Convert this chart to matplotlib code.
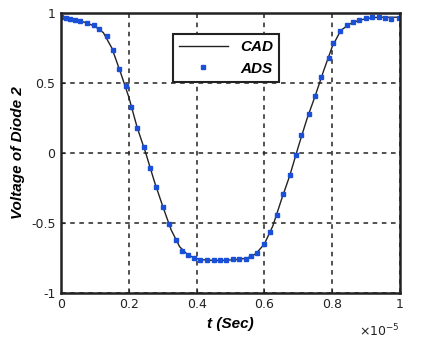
import numpy as np
import matplotlib
matplotlib.use('Agg')
import matplotlib.pyplot as plt

# CAD model of the diode 2 voltage (time in units of 1e-5 s)
t_cad = np.linspace(0, 1, 41)
v_cad = [0.97, 0.962, 0.948, 0.93, 0.905, 0.86, 0.75, 0.58, 0.40, 0.18,
         0.0, -0.2, -0.38, -0.55, -0.67, -0.73, -0.755, -0.765, -0.768, -0.768,
         -0.764, -0.76, -0.75, -0.72, -0.65, -0.52, -0.335, -0.16, 0.045, 0.24,
         0.41, 0.59, 0.76, 0.875, 0.92, 0.945, 0.96, 0.968, 0.97, 0.97, 0.97]

# ADS transient simulation samples
t_ads = [0.0, 0.014, 0.027, 0.041, 0.056, 0.077, 0.097, 0.112, 0.135, 0.153,
         0.171, 0.191, 0.206, 0.225, 0.245, 0.263, 0.28, 0.301, 0.318, 0.338,
         0.356, 0.374, 0.393, 0.41, 0.43, 0.451, 0.47, 0.488, 0.506, 0.526,
         0.545, 0.56, 0.579, 0.6, 0.617, 0.636, 0.655, 0.676, 0.694, 0.709,
         0.73, 0.75, 0.767, 0.79, 0.803, 0.823, 0.843, 0.862, 0.879, 0.899,
         0.917, 0.938, 0.956, 0.973, 0.997]
v_ads = [0.97, 0.962, 0.957, 0.95, 0.943, 0.93, 0.914, 0.886, 0.836, 0.736,
         0.6, 0.479, 0.33, 0.18, 0.04, -0.105, -0.243, -0.383, -0.51, -0.62,
         -0.702, -0.731, -0.75, -0.762, -0.764, -0.766, -0.766, -0.766, -0.759, -0.759,
         -0.755, -0.738, -0.712, -0.652, -0.563, -0.445, -0.293, -0.157, -0.014, 0.126,
         0.276, 0.41, 0.545, 0.676, 0.788, 0.874, 0.912, 0.936, 0.95, 0.966,
         0.969, 0.971, 0.964, 0.957, 0.962]

xticks = [0, 0.2, 0.4, 0.6, 0.8, 1]
xticklabels = ['0', '0.2', '0.4', '0.6', '0.8', '1']
yticks = [-1, -0.5, 0, 0.5, 1]
yticklabels = ['-1', '-0.5', '0', '0.5', '1']

fig = plt.figure(figsize=(4.45, 3.43), dpi=100)
ax = fig.add_axes([0.137, 0.146, 0.762, 0.816])

ax.plot(t_cad, v_cad, color='#222222', lw=1.0, label='CAD')
ax.plot(t_ads, v_ads, 's', color='#1a50d8', ms=3, mec='#1a50d8', label='ADS')

ax.set_xlim(0, 1)
ax.set_ylim(-1, 1)
ax.set_xticks(xticks)
ax.set_xticklabels(xticklabels)
ax.set_yticks(yticks)
ax.set_yticklabels(yticklabels)
ax.tick_params(direction='in', length=3, labelsize=9, colors='#222222', pad=4)

ax.grid(True, color='#222222', linestyle=(0, (3, 3)), lw=1.1)
for s in ax.spines.values():
    s.set_linewidth(1.8)
    s.set_color('#222222')

lab = dict(fontsize=11, fontweight='bold', style='italic', family='Liberation Sans')
ax.set_xlabel('t (Sec)', labelpad=4, **lab)
ax.set_ylabel('Voltage of Diode 2', labelpad=4, **lab)
ax.text(1.0, -0.135, r'$\times10^{-5}$', transform=ax.transAxes,
        ha='right', va='center', fontsize=9, color='#222222')

leg = ax.legend(loc='upper left', bbox_to_anchor=(0.33, 0.925), borderaxespad=0,
                fancybox=False, framealpha=1, edgecolor='#222222',
                prop=dict(size=11, weight='bold', style='italic', family='Liberation Sans'),
                handlelength=3.2, borderpad=0.4, labelspacing=0.5)
leg.get_frame().set_linewidth(1.5)

fig.savefig('out.png', dpi=100)
